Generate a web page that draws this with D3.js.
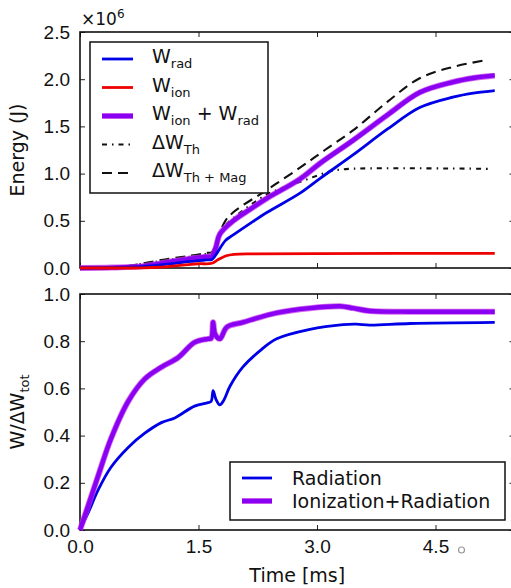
<!DOCTYPE html>
<html>
<head>
<meta charset="utf-8">
<script src="https://cdn.jsdelivr.net/npm/d3@7"></script>
<style>
  html, body { margin: 0; padding: 0; background: #fff; }
  svg { display: block; font-family: "DejaVu Sans", sans-serif; }
</style>
</head>
<body>
<svg id="chart" width="511" height="588"></svg>
<script>
// ---- data: time in ms, energy in units of 1e6 J ----
const wRad = [[0,0],[0.4,0.003],[0.8,0.015],[1.1,0.04],[1.4,0.07],[1.6,0.085],[1.67,0.09],[1.72,0.14],
  [1.84,0.29],[1.94,0.35],[2.15,0.47],[2.37,0.59],[2.78,0.79],[3.04,0.95],[3.46,1.2],[3.89,1.47],
  [4.30,1.70],[4.72,1.81],[5.0,1.855],[5.25,1.88]];
const wIon = [[0,0],[0.8,0.002],[1.0,0.008],[1.3,0.03],[1.5,0.045],[1.67,0.05],[1.75,0.09],[1.85,0.13],
  [1.95,0.145],[2.2,0.15],[3.0,0.153],[5.25,0.155]];
const wIonRad = [[0,0],[0.4,0.004],[0.8,0.02],[1.1,0.06],[1.4,0.1],[1.6,0.12],[1.67,0.125],[1.72,0.22],
  [1.77,0.36],[1.94,0.5],[2.15,0.62],[2.37,0.74],[2.78,0.94],[3.04,1.11],[3.46,1.355],[3.89,1.62],
  [4.30,1.86],[4.72,1.97],[5.0,2.015],[5.25,2.04]];
const dWTh = [[0,0],[0.4,0.005],[0.8,0.045],[1.14,0.09],[1.4,0.12],[1.61,0.15],[1.67,0.16],[1.75,0.3],
  [1.84,0.45],[1.94,0.53],[2.37,0.78],[2.78,0.91],[3.04,0.99],[3.2,1.03],[3.4,1.05],[5.2,1.05]];
const dWThMag = [[0,0],[0.4,0.005],[0.6,0.02],[0.8,0.05],[1.14,0.1],[1.4,0.13],[1.61,0.16],[1.67,0.17],
  [1.75,0.33],[1.84,0.5],[1.94,0.59],[2.37,0.83],[2.78,1.06],[3.1,1.25],[3.46,1.46],[3.89,1.76],
  [4.30,2.01],[4.72,2.13],[5.13,2.2]];

// ---- data: fractions of total energy ----
const radFrac = [[0,0],[0.1,0.07],[0.23,0.17],[0.39,0.265],[0.61,0.35],[0.82,0.41],[1.03,0.455],[1.2,0.475],
  [1.45,0.525],[1.62,0.54],[1.66,0.545],[1.685,0.59],[1.72,0.555],[1.77,0.53],[1.82,0.55],[1.9,0.61],
  [2.06,0.69],[2.28,0.76],[2.49,0.81],[2.91,0.85],[3.33,0.87],[3.5,0.872],[3.67,0.868],[4.18,0.875],[5.25,0.88]];
const ionRadFrac = [[0,0],[0.1,0.1],[0.23,0.23],[0.39,0.385],[0.61,0.545],[0.82,0.64],[1.03,0.69],[1.24,0.73],
  [1.45,0.795],[1.62,0.81],[1.66,0.812],[1.685,0.88],[1.71,0.83],[1.77,0.81],[1.86,0.86],[2.06,0.88],
  [2.49,0.92],[2.91,0.94],[3.29,0.948],[3.46,0.94],[3.67,0.928],[4.18,0.925],[5.25,0.925]];

const xTicks = [0, 1.5, 3.0, 4.5];
const energyTicks = [0, 0.5, 1.0, 1.5, 2.0, 2.5];
const fracTicks = [0, 0.2, 0.4, 0.6, 0.8, 1.0];

const BLUE = "#0000e8", RED = "#ee0000", PURPLE = "#8a00f2", PURPLE_EDGE = "#c83ce6";
const FS = 19;

const svg = d3.select("#chart");
const left = 80, right = 514.5;
const x = d3.scaleLinear().domain([0, 5.5]).range([left, right]);
const yTop = d3.scaleLinear().domain([0, 2.5]).range([268, 32]);
const yBot = d3.scaleLinear().domain([0, 1.0]).range([530, 294]);

function frame(y, yt, showX) {
  const g = svg.append("g");
  const [y0, y1] = y.range();
  // inward ticks on all four sides
  const ax = (axis, tr) => {
    const a = g.append("g").attr("transform", tr).call(axis);
    a.select(".domain").remove();
    a.selectAll(".tick line").attr("stroke", "#222").attr("stroke-width", 1);
    a.selectAll("text").attr("font-size", FS).attr("fill", "#111");
    return a;
  };
  ax(d3.axisLeft(y).tickValues(yt).tickSizeInner(-5).tickPadding(10).tickFormat(d3.format(".1f")),
     `translate(${left},0)`);
  ax(d3.axisRight(y).tickValues(yt).tickSizeInner(-5).tickFormat(""), `translate(${right},0)`);
  ax(d3.axisTop(x).tickValues(xTicks).tickSizeInner(-5).tickFormat(""), `translate(0,${y1})`);
  ax(d3.axisBottom(x).tickValues(xTicks).tickSizeInner(-5).tickPadding(10)
     .tickFormat(showX ? d3.format(".1f") : ""), `translate(0,${y0})`);
  g.append("rect").attr("x", left).attr("y", y1).attr("width", right - left).attr("height", y0 - y1)
    .attr("fill", "none").attr("stroke", "#111").attr("stroke-width", 1.6);
}

const line = (y) => d3.line().x(d => x(d[0])).y(d => y(d[1])).curve(d3.curveCatmullRom.alpha(0.5));

function drawSeries(g, data, y, style) {
  if (style.edge) {
    g.append("path").datum(data).attr("d", line(y)).attr("fill", "none")
      .attr("stroke", style.edge).attr("stroke-width", style.width + 1.6).attr("stroke-opacity", 0.75)
      .attr("stroke-linejoin", "round");
  }
  g.append("path").datum(data).attr("d", line(y)).attr("fill", "none")
    .attr("stroke", style.color).attr("stroke-width", style.width)
    .attr("stroke-dasharray", style.dash || null).attr("stroke-linejoin", "round");
}

// ---- top panel: energies ----
frame(yTop, energyTicks, false);
const topStyles = [
  { data: wRad, color: BLUE, width: 2.8 },
  { data: wIon, color: RED, width: 2.8 },
  { data: dWTh, color: "#111", width: 2.1, dash: "5,5,1.5,5" },
  { data: dWThMag, color: "#111", width: 2.1, dash: "10,6" },
  { data: wIonRad, color: PURPLE, width: 4.4, edge: PURPLE_EDGE },
];
const gTop = svg.append("g");
[topStyles[2], topStyles[3], topStyles[4], topStyles[0], topStyles[1]]
  .forEach(s => drawSeries(gTop, s.data, yTop, s));

// multiplier label
const mult = svg.append("text").attr("x", left + 1).attr("y", 25).attr("font-size", 17).attr("fill", "#111");
mult.append("tspan").text("×10");
mult.append("tspan").attr("font-size", 12).attr("dy", -7).text("6");

// y label
svg.append("text").attr("transform", `translate(24,${(yTop.range()[0] + yTop.range()[1]) / 2}) rotate(-90)`)
  .attr("text-anchor", "middle").attr("font-size", FS).attr("fill", "#111").text("Energy (J)");

// text with subscripts
function subText(sel, parts) {
  parts.forEach(p => {
    if (p.sub) sel.append("tspan").attr("font-size", 13).attr("dy", 5).text(p.sub);
    else sel.append("tspan").attr("font-size", FS).attr("dy", p.up ? -5 : 0).text(p.t);
  });
}
const topLegend = [
  { style: topStyles[0], parts: [{t:"W"},{sub:"rad"}] },
  { style: topStyles[1], parts: [{t:"W"},{sub:"ion"}] },
  { style: topStyles[4], parts: [{t:"W"},{sub:"ion"},{t:" + W", up:true},{sub:"rad"}] },
  { style: topStyles[2], parts: [{t:"ΔW"},{sub:"Th"}] },
  { style: topStyles[3], parts: [{t:"ΔW"},{sub:"Th + Mag"}] },
];
const lgT = svg.append("g").attr("transform", "translate(90,42)");
lgT.append("rect").attr("width", 178).attr("height", 151).attr("fill", "#fff")
  .attr("stroke", "#111").attr("stroke-width", 1.5);
topLegend.forEach((e, i) => {
  const yy = 17 + i * 28.5;
  const s = e.style;
  if (s.edge) lgT.append("line").attr("x1", 12).attr("x2", 43).attr("y1", yy).attr("y2", yy)
    .attr("stroke", s.edge).attr("stroke-width", s.width + 1.6).attr("stroke-opacity", 0.75);
  lgT.append("line").attr("x1", 12).attr("x2", 43).attr("y1", yy).attr("y2", yy)
    .attr("stroke", s.color).attr("stroke-width", s.width).attr("stroke-dasharray", s.dash || null);
  const t = lgT.append("text").attr("x", 62).attr("y", yy + 4).attr("fill", "#111");
  subText(t, e.parts);
});

// ---- bottom panel: fractions ----
frame(yBot, fracTicks, true);
const botStyles = [
  { data: radFrac, color: BLUE, width: 2.8, name: "Radiation" },
  { data: ionRadFrac, color: PURPLE, width: 4.4, edge: PURPLE_EDGE, name: "Ionization+Radiation" },
];
const gBot = svg.append("g");
botStyles.forEach(s => drawSeries(gBot, s.data, yBot, s));

const yl = svg.append("text")
  .attr("transform", `translate(24,${(yBot.range()[0] + yBot.range()[1]) / 2}) rotate(-90)`)
  .attr("text-anchor", "middle").attr("fill", "#111");
subText(yl, [{t:"W/ΔW"},{sub:"tot"}]);

svg.append("text").attr("x", (left + right) / 2).attr("y", 582).attr("text-anchor", "middle")
  .attr("font-size", FS).attr("fill", "#111").text("Time [ms]");

// small marker beside the last tick label
svg.append("circle").attr("cx", x(4.5) + 26).attr("cy", 550).attr("r", 3)
  .attr("fill", "none").attr("stroke", "#999").attr("stroke-width", 1.2);

const lgB = svg.append("g").attr("transform", "translate(230,462)");
lgB.append("rect").attr("width", 275).attr("height", 58).attr("fill", "#fff")
  .attr("stroke", "#111").attr("stroke-width", 1.5);
botStyles.forEach((s, i) => {
  const yy = 16 + i * 23;
  if (s.edge) lgB.append("line").attr("x1", 12).attr("x2", 42).attr("y1", yy).attr("y2", yy)
    .attr("stroke", s.edge).attr("stroke-width", s.width + 1.6).attr("stroke-opacity", 0.75);
  lgB.append("line").attr("x1", 12).attr("x2", 42).attr("y1", yy).attr("y2", yy)
    .attr("stroke", s.color).attr("stroke-width", s.width);
  lgB.append("text").attr("x", 62).attr("y", yy + 7).attr("font-size", FS).attr("fill", "#111").text(s.name);
});
</script>
</body>
</html>
